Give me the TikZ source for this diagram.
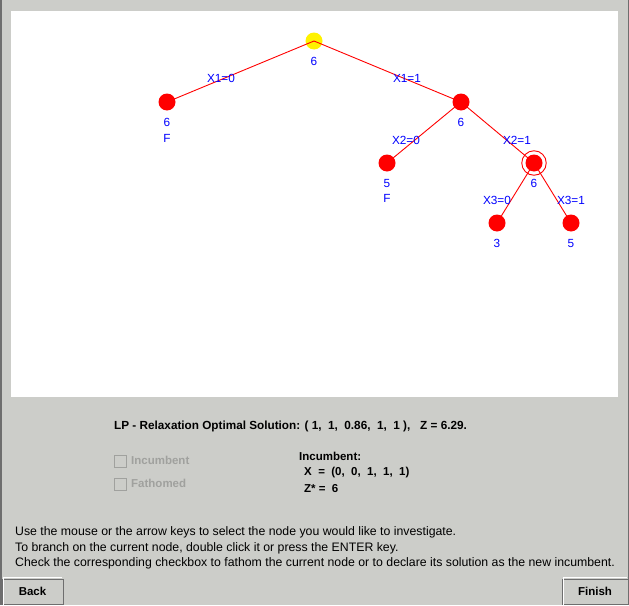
\documentclass[tikz,border=0pt]{standalone}
\usepackage{fontspec}
\setmainfont{Liberation Sans}
\definecolor{winbg}{RGB}{204,205,201}
\definecolor{lbl}{RGB}{0,0,255}
\definecolor{dis}{RGB}{160,161,158}
\definecolor{frame}{RGB}{110,110,110}
\tikzset{
  treenode/.style={circle,fill=red,draw=none,minimum size=17pt,inner sep=0pt},
  rootnode/.style={circle,fill=yellow,draw=none,minimum size=17pt,inner sep=0pt},
  val/.style={text=lbl,font=\fontsize{11.8}{12}\selectfont,inner sep=0pt},
  edgelbl/.style={text=lbl,font=\fontsize{11.8}{12}\selectfont,inner sep=0pt},
  branch/.style={draw=red,line width=0.9pt},
  bold/.style={font=\fontsize{11.5}{12}\selectfont\bfseries,inner sep=0pt,anchor=west},
  lpbold/.style={font=\fontsize{11.75}{12}\selectfont\bfseries,inner sep=0pt,anchor=west},
  plain/.style={font=\fontsize{12.3}{12}\selectfont,inner sep=0pt,anchor=west},
  distext/.style={font=\fontsize{11.5}{12}\selectfont\bfseries,text=dis,inner sep=0pt,anchor=west},
  checkbox/.style={draw=dis,line width=0.9pt,minimum size=12pt,inner sep=0pt},
  button/.style={draw=frame,fill=winbg,line width=1pt,minimum height=25pt,inner sep=0pt,font=\fontsize{11.5}{12}\selectfont\bfseries}
}
\begin{document}
\begin{tikzpicture}[x=1pt,y=-1pt]
\useasboundingbox (0,0) rectangle (629,605);
% window background
\fill[winbg] (0,0) rectangle (629,605);
\draw[frame,line width=1.5pt] (0.75,0) -- (0.75,605);
\draw[frame,line width=1.5pt] (628.25,0) -- (628.25,605);
% canvas
\fill[white] (11,11) rectangle (618,397);

% tree nodes
\node[rootnode] (r) at (314,41) {};
\node[treenode] (a) at (167,102) {};
\node[treenode] (b) at (461,102) {};
\node[treenode] (c) at (387,163) {};
\node[treenode] (d) at (534,163) {};
\node[treenode] (e) at (497,223) {};
\node[treenode] (f) at (571,223) {};
\node[circle,draw=red,line width=0.9pt,minimum size=24.5pt,inner sep=0pt] (dring) at (d) {};

% branches
\draw[branch] (r.center) -- (a.center);
\draw[branch] (r.center) -- (b.center);
\draw[branch] (b.center) -- (c.center);
\draw[branch] (b.center) -- (d.center);
\draw[branch] (d.center) -- (e.center);
\draw[branch] (d.center) -- (f.center);

% branch labels
\node[edgelbl] (l1) at (221,78) {X1=0};
\node[edgelbl] (l2) at (407,78) {X1=1};
\node[edgelbl] (l3) at (406,140) {X2=0};
\node[edgelbl] (l4) at (517,140) {X2=1};
\node[edgelbl] (l5) at (497,200) {X3=0};
\node[edgelbl] (l6) at (571,200) {X3=1};

% node values
\node[val] (vr) at (314,61) {6};
\node[val] (va) at (167,122) {6};
\node[val] (fa) at (167,138) {F};
\node[val] (vb) at (461,122) {6};
\node[val] (vc) at (387,183) {5};
\node[val] (fc) at (387,198) {F};
\node[val] (vd) at (534,183) {6};
\node[val] (ve) at (497,243) {3};
\node[val] (vf) at (571,243) {5};

% status text
\node[lpbold] (lp) at (114,426) {LP - Relaxation Optimal Solution: ( 1,\ \ 1,\ \ 0.86,\ \ 1,\ \ 1 ),\ \ \ Z = 6.29.};

\node[checkbox] (cb1) at (120,461) {};
\node[checkbox] (cb2) at (120,484) {};
\node[distext] (t1) at (131,460) {Incumbent};
\node[distext] (t2) at (131,483) {Fathomed};

\node[bold] (inc) at (299,456.5) {Incumbent:};
\node[bold] (incx) at (304,472.5) {X\ \ =\ \ (0,\ \ 0,\ \ 1,\ \ 1,\ \ 1)};
\node[bold] (incz) at (304,488.5) {Z*\ =\ \ 6};

% instructions
\node[plain] (h1) at (15,532) {Use the mouse or the arrow keys to select the node you would like to investigate.};
\node[plain] (h2) at (15,548) {To branch on the current node, double click it or press the ENTER key.};
\node[plain] (h3) at (15,563.5) {Check the corresponding checkbox to fathom the current node or to declare its solution as the new incumbent.};

% buttons
\node[button,minimum width=61pt] (back) at (32.5,591.5) {Back};
\node[button,minimum width=66pt] (finish) at (595,591.5) {Finish};
\draw[white,line width=1pt] ([xshift=1.5pt,yshift=-1.5pt]back.south west) |- ([xshift=-1.5pt,yshift=1.5pt]back.north east);
\draw[white,line width=1pt] ([xshift=1.5pt,yshift=-1.5pt]finish.south west) |- ([xshift=-1.5pt,yshift=1.5pt]finish.north east);
\end{tikzpicture}
\end{document}
